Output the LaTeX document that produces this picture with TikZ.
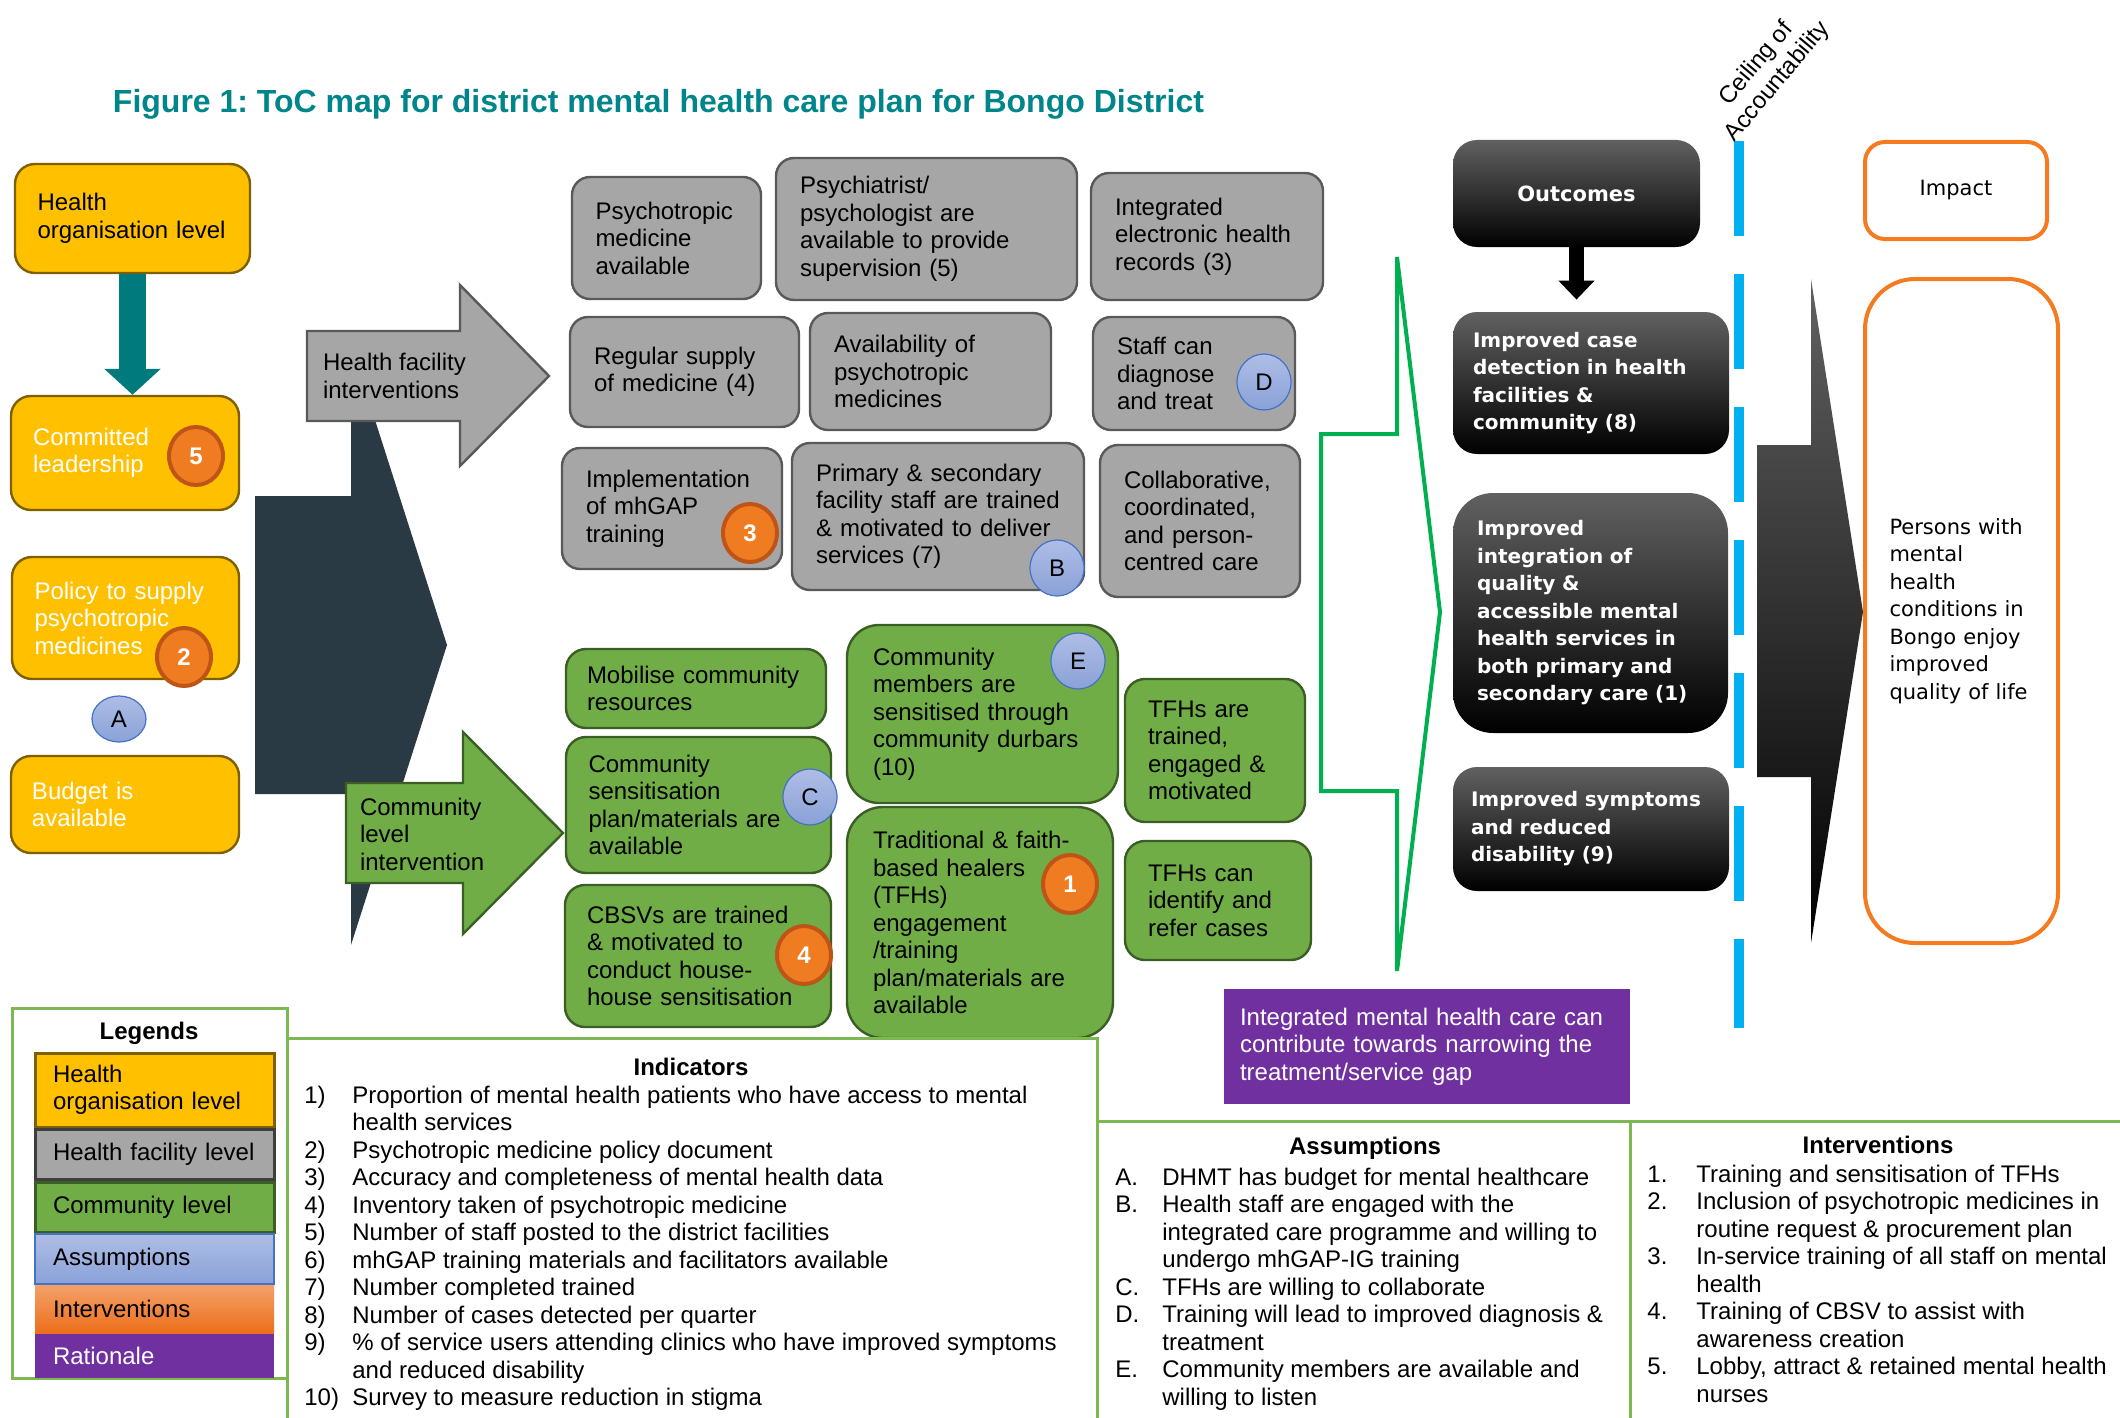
\documentclass[tikz,border=0pt]{standalone}
\usepackage{fontspec}
\setmainfont{Liberation Sans}
\newfontfamily\widefont{DejaVu Sans}
\frenchspacing
\usetikzlibrary{arrows.meta, shapes.geometric}
\definecolor{titleteal}{HTML}{00858A}
\definecolor{orgfill}{HTML}{FFC000}
\definecolor{orgline}{HTML}{7F6000}
\definecolor{orgarrow}{HTML}{007A7C}
\definecolor{hffill}{HTML}{A6A6A6}
\definecolor{hfline}{HTML}{595959}
\definecolor{cmfill}{HTML}{70AD47}
\definecolor{cmline}{HTML}{3B5E25}
\definecolor{asmtop}{HTML}{AEBDE5}
\definecolor{asmbot}{HTML}{8AA2D8}
\definecolor{asmline}{HTML}{4472C4}
\definecolor{intfill}{HTML}{F07C22}
\definecolor{intline}{HTML}{BF5417}
\definecolor{inttop}{HTML}{F4A068}
\definecolor{intbot}{HTML}{EC6F1C}
\definecolor{ratfill}{HTML}{7030A0}
\definecolor{slate}{HTML}{2A3A44}
\definecolor{chevgreen}{HTML}{00B050}
\definecolor{ceilblue}{HTML}{00B0F0}
\definecolor{impline}{HTML}{F47B20}
\definecolor{panelline}{HTML}{7DB852}
\tikzset{
  txt/.style      = {font=\fontsize{12}{13.75}\selectfont},
  lvlbox/.style   = {txt, align=left, rounded corners=10pt, line width=1.2pt, inner xsep=2pt, inner ysep=2pt},
  orgbox/.style   = {lvlbox, draw=orgline, fill=orgfill},
  hfbox/.style    = {lvlbox, draw=hfline, fill=hffill, rounded corners=9pt},
  cmbox/.style    = {lvlbox, draw=cmline, fill=cmfill},
  outbox/.style   = {align=left, rounded corners=12pt, text=white, inner xsep=2pt,
                     top color=black!62, middle color=black, bottom color=black,
                     font=\widefont\bfseries\fontsize{10}{13.75}\selectfont},
  impbox/.style   = {draw=impline, line width=2pt, fill=white, rounded corners=10pt,
                     font=\widefont\fontsize{10.5}{13.75}\selectfont},
  ratbox/.style   = {txt, align=left, fill=ratfill, text=white},
  numbadge/.style = {ellipse, fill=intfill, draw=intline, line width=2pt, text=white, inner sep=0pt,
                     minimum width=27pt, minimum height=29pt, font=\fontsize{12}{13.75}\selectfont\bfseries},
  asmbadge/.style = {ellipse, top color=asmtop, bottom color=asmbot, draw=asmline, line width=0.6pt,
                     inner sep=0pt, minimum width=27pt, minimum height=28pt, txt},
  legbox/.style   = {txt, align=left, sharp corners, minimum width=119.5pt, text width=101.5pt, inner ysep=1pt},
  listtext/.style = {txt, inner sep=0pt, anchor=base west},
  panel/.style    = {draw=panelline, line width=1.5pt},
  hfarrow/.style  = {draw=hfline, fill=hffill, line width=1.2pt},
  cmarrow/.style  = {draw=cmline, fill=cmfill, line width=1.2pt},
  chevron/.style  = {draw=chevgreen, line width=2pt},
  ceiling/.style  = {draw=ceilblue, line width=5pt, dash pattern=on 47.5pt off 19pt},
  downarrow/.style = {draw=orgarrow, line width=13.5pt, -{Triangle[width=27.5pt, length=13pt]}},
}

\begin{document}
\begin{tikzpicture}[x=0.5pt, y=-0.5pt]
  \useasboundingbox (0,0) rectangle (2120,1418);

  \node[font=\fontsize{16}{18}\selectfont\bfseries, text=titleteal] (title) at (658.5,104)
    {Figure 1: ToC map for district mental health care plan for Bongo District};

  % health organisation level
  \node[orgbox, minimum width=117.5pt, minimum height=54.5pt, text width=95pt] (org) at (132.5,218.5) {Health\\organisation level};
  \node[orgbox, text=white, minimum width=114pt, minimum height=57pt, text width=92pt] (lead) at (125,453) {Committed\\leadership};
  \node[orgbox, text=white, minimum width=113.5pt, minimum height=61pt, text width=91pt] (policy) at (125.5,618) {Policy to supply\\psychotropic\\medicines};
  \node[orgbox, text=white, minimum width=114pt, minimum height=48.5pt, text width=93pt] (budget) at (125,804.5) {Budget is\\available};
  \draw[downarrow] (org.south) -- (org.south |- lead.north);

  % level arrows
  \fill[slate] (255,496) -- (351,496) -- (351,345) -- (447,645) -- (351,945) -- (351,794) -- (255,794) -- cycle;
  \draw[hfarrow] (307,331) -- (460,331) -- (460,285) -- (549,376) -- (460,466) -- (460,421) -- (307,421) -- cycle;
  \node[txt, anchor=west, align=left] (hflabel) at (316,376) {Health facility\\interventions};
  \draw[cmarrow] (346,783) -- (463,783) -- (463,732) -- (563,833) -- (463,934) -- (463,883) -- (346,883) -- cycle;
  \node[txt, anchor=west, align=left] (cmlabel) at (353,834) {Community\\level\\intervention};

  % health facility level
  \node[hfbox, minimum width=94.5pt, minimum height=61pt, text width=71pt] (medavail) at (666.5,238) {Psychotropic\\medicine\\available};
  \node[hfbox, minimum width=150.5pt, minimum height=71pt, text width=126.5pt] (supervise) at (926.5,229) {Psychiatrist/\\psychologist are\\available to provide\\supervision (5)};
  \node[hfbox, minimum width=116pt, minimum height=63.5pt, text width=92pt] (ehr) at (1207,236.5) {Integrated\\electronic health\\records (3)};
  \node[hfbox, minimum width=114.5pt, minimum height=55pt, text width=90.5pt] (supply) at (684.5,372) {Regular supply\\of medicine (4)};
  \node[hfbox, minimum width=120.5pt, minimum height=58.5pt, text width=96.5pt] (availpsy) at (930.5,371.5) {Availability of\\psychotropic\\medicines};
  \node[hfbox, minimum width=101pt, minimum height=56.5pt, text width=77pt] (diagnose) at (1194,373.5) {Staff can\\diagnose\\and treat};
  \node[hfbox, minimum width=110pt, minimum height=60.5pt, text width=86pt] (mhgap) at (672,508.5) {Implementation\\of mhGAP\\training};
  \node[hfbox, minimum width=146pt, minimum height=73.5pt, text width=122pt] (stafftrain) at (938,516.5) {Primary \& secondary\\facility staff are trained\\\& motivated to deliver\\services (7)};
  \node[hfbox, minimum width=100pt, minimum height=76pt, text width=76pt] (collab) at (1200,521) {Collaborative,\\coordinated,\\and person-\\centred care};

  % community level
  \node[cmbox, minimum width=130pt, minimum height=39.5pt, text width=109pt] (mobilise) at (696,688.5) {Mobilise community\\resources};
  \node[cmbox, minimum width=132.5pt, minimum height=68pt, text width=110pt] (commsens) at (698.5,805) {Community\\sensitisation\\plan/materials are\\available};
  \node[cmbox, minimum width=133pt, minimum height=71pt, text width=111pt] (cbsv) at (698,956) {CBSVs are trained\\\& motivated to\\conduct house-\\house sensitisation};
  \node[cmbox, minimum width=135.5pt, minimum height=89pt, text width=109.5pt, rounded corners=16pt] (durbars) at (982.5,714) {Community\\members are\\sensitised through\\community durbars\\(10)};
  \node[cmbox, minimum width=133pt, minimum height=115.5pt, text width=107pt, rounded corners=18pt] (healers) at (980,922.5) {Traditional \& faith-\\based healers\\(TFHs)\\engagement\\/training\\plan/materials are\\available};
  \node[cmbox, minimum width=90pt, minimum height=71.5pt, text width=67pt] (tfhtrain) at (1215,750.5) {TFHs are\\trained,\\engaged \&\\motivated};
  \node[cmbox, minimum width=93pt, minimum height=59.5pt, text width=70pt] (tfhrefer) at (1218,900.5) {TFHs can\\identify and\\refer cases};

  % interventions and assumptions
  \node[numbadge] (int5) at (196,456) {5};
  \node[numbadge] (int2) at (184,657) {2};
  \node[asmbadge, minimum height=23pt] (asma) at (119,719) {A};
  \node[numbadge] (int3) at (750,533) {3};
  \node[asmbadge] (asmb) at (1057,568) {B};
  \node[asmbadge] (asmd) at (1264,382) {D};
  \node[asmbadge] (asmc) at (810,797) {C};
  \node[asmbadge] (asme) at (1078,661) {E};
  \node[numbadge] (int4) at (804,955) {4};
  \node[numbadge] (int1) at (1070,884) {1};

  \draw[chevron] (1397,257) -- (1440,612) -- (1397,971) -- (1397,791) -- (1321,791) -- (1321,434) -- (1397,434) -- cycle;

  % outcomes
  \node[outbox, align=center, minimum width=123.5pt, minimum height=53.5pt, font=\widefont\bfseries\fontsize{10.5}{13.75}\selectfont] (outhead) at (1576.5,193.5) {Outcomes};
  \node[outbox, minimum width=138pt, minimum height=71pt, text width=118pt] (detect) at (1591,383) {Improved case\\detection in health\\facilities \&\\community (8)};
  \node[outbox, minimum width=137.5pt, minimum height=120pt, text width=113.5pt, rounded corners=20pt] (integ) at (1590.5,613) {Improved\\integration of\\quality \&\\accessible mental\\health services in\\both primary and\\secondary care (1)};
  \node[outbox, minimum width=138pt, minimum height=62pt, text width=120pt] (symptoms) at (1591,829) {Improved symptoms\\and reduced\\disability (9)};
  \draw[line width=7.5pt, -{Triangle[width=17.5pt, length=9.5pt]}, shorten >=6pt] (outhead.south) -- (outhead.south |- detect.north);

  \coordinate (ceiltop) at (1739,141);
  \coordinate (ceilbot) at (1739,1028);
  \draw[ceiling] (ceiltop) -- (ceilbot);
  \node[txt, rotate=50, align=center] (ceillabel) at (1767,73) {Ceiling of\\Accountability};

  \shade[top color=black!62, middle color=black, bottom color=black]
    (1757,445) -- (1811,445) -- (1811,279) -- (1863,612) -- (1811,943) -- (1811,777) -- (1757,777) -- cycle;

  % impact
  \node[impbox, minimum width=91pt, minimum height=48.5pt] (impact) at (1956,190.5) {Impact};
  \node[impbox, align=left, rounded corners=25pt, minimum width=96.5pt, minimum height=332pt, text width=72pt] (persons) at (1961.5,611)
    {Persons with\\mental\\health\\conditions in\\Bongo enjoy\\improved\\quality of life};

  \node[ratbox, minimum width=203pt, minimum height=57.5pt, text width=187pt] (rationale) at (1427,1046.5)
    {Integrated mental health care can\\contribute towards narrowing the\\treatment/service gap};

  % legend
  \draw[panel] (12,1008) rectangle (287,1378);
  \node[txt, font=\fontsize{12}{13.75}\selectfont\bfseries] (legtitle) at (149,1033) {Legends};
  \node[legbox, draw=orgline, fill=orgfill, line width=1.5pt, minimum height=37pt] (legorg) at (154.5,1090) {Health\\organisation level};
  \node[legbox, draw=hfline!70!black, fill=hffill, line width=1.5pt, minimum height=25pt] (leghf) at (154.5,1154) {Health facility level};
  \node[legbox, draw=cmline, fill=cmfill, line width=1.5pt, minimum height=25pt] (legcm) at (154.5,1207) {Community level};
  \node[legbox, draw=asmline, top color=asmtop, bottom color=asmbot, line width=0.8pt, minimum height=25pt] (legasm) at (154.5,1259) {Assumptions};
  \node[legbox, top color=inttop, bottom color=intbot, minimum height=24pt] (legint) at (154.5,1309) {Interventions};
  \node[legbox, fill=ratfill, text=white, minimum height=22pt] (legrat) at (154.5,1356) {Rationale};

  % indicators, assumptions, interventions
  \draw[panel] (287,1418) -- (287,1038) -- (1097,1038) -- (1097,1418);
  \draw[panel] (1097,1121) -- (2120,1121);
  \draw[panel] (1630,1121) -- (1630,1418);

  \node[txt, font=\fontsize{12}{13.75}\selectfont\bfseries] (indtitle) at (691,1067) {Indicators};
  \node[listtext] (indlist) at (304,1103) {\begin{tabular}[t]{@{}p{24pt}@{}l@{}}
    1)  & Proportion of mental health patients who have access to mental\\
        & health services\\
    2)  & Psychotropic medicine policy document\\
    3)  & Accuracy and completeness of mental health data\\
    4)  & Inventory taken of psychotropic medicine\\
    5)  & Number of staff posted to the district facilities\\
    6)  & mhGAP training materials and facilitators available\\
    7)  & Number completed trained\\
    8)  & Number of cases detected per quarter\\
    9)  & \% of service users attending clinics who have improved symptoms\\
        & and reduced disability\\
    10) & Survey to measure reduction in stigma
  \end{tabular}};

  \node[txt, font=\fontsize{12}{13.75}\selectfont\bfseries] (asmtitle) at (1365,1148) {Assumptions};
  \node[listtext] (asmlist) at (1115,1185) {\begin{tabular}[t]{@{}p{23.5pt}@{}l@{}}
    A. & DHMT has budget for mental healthcare\\
    B. & Health staff are engaged with the\\
       & integrated care programme and willing to\\
       & undergo mhGAP-IG training\\
    C. & TFHs are willing to collaborate\\
    D. & Training will lead to improved diagnosis \&\\
       & treatment\\
    E. & Community members are available and\\
       & willing to listen
  \end{tabular}};

  \node[txt, font=\fontsize{12}{13.75}\selectfont\bfseries] (inttitle) at (1878,1145) {Interventions};
  \node[listtext] (intlist) at (1647,1182) {\begin{tabular}[t]{@{}p{24.5pt}@{}l@{}}
    1. & Training and sensitisation of TFHs\\
    2. & Inclusion of psychotropic medicines in\\
       & routine request \& procurement plan\\
    3. & In-service training of all staff on mental\\
       & health\\
    4. & Training of CBSV to assist with\\
       & awareness creation\\
    5. & Lobby, attract \& retained mental health\\
       & nurses
  \end{tabular}};
\end{tikzpicture}
\end{document}
